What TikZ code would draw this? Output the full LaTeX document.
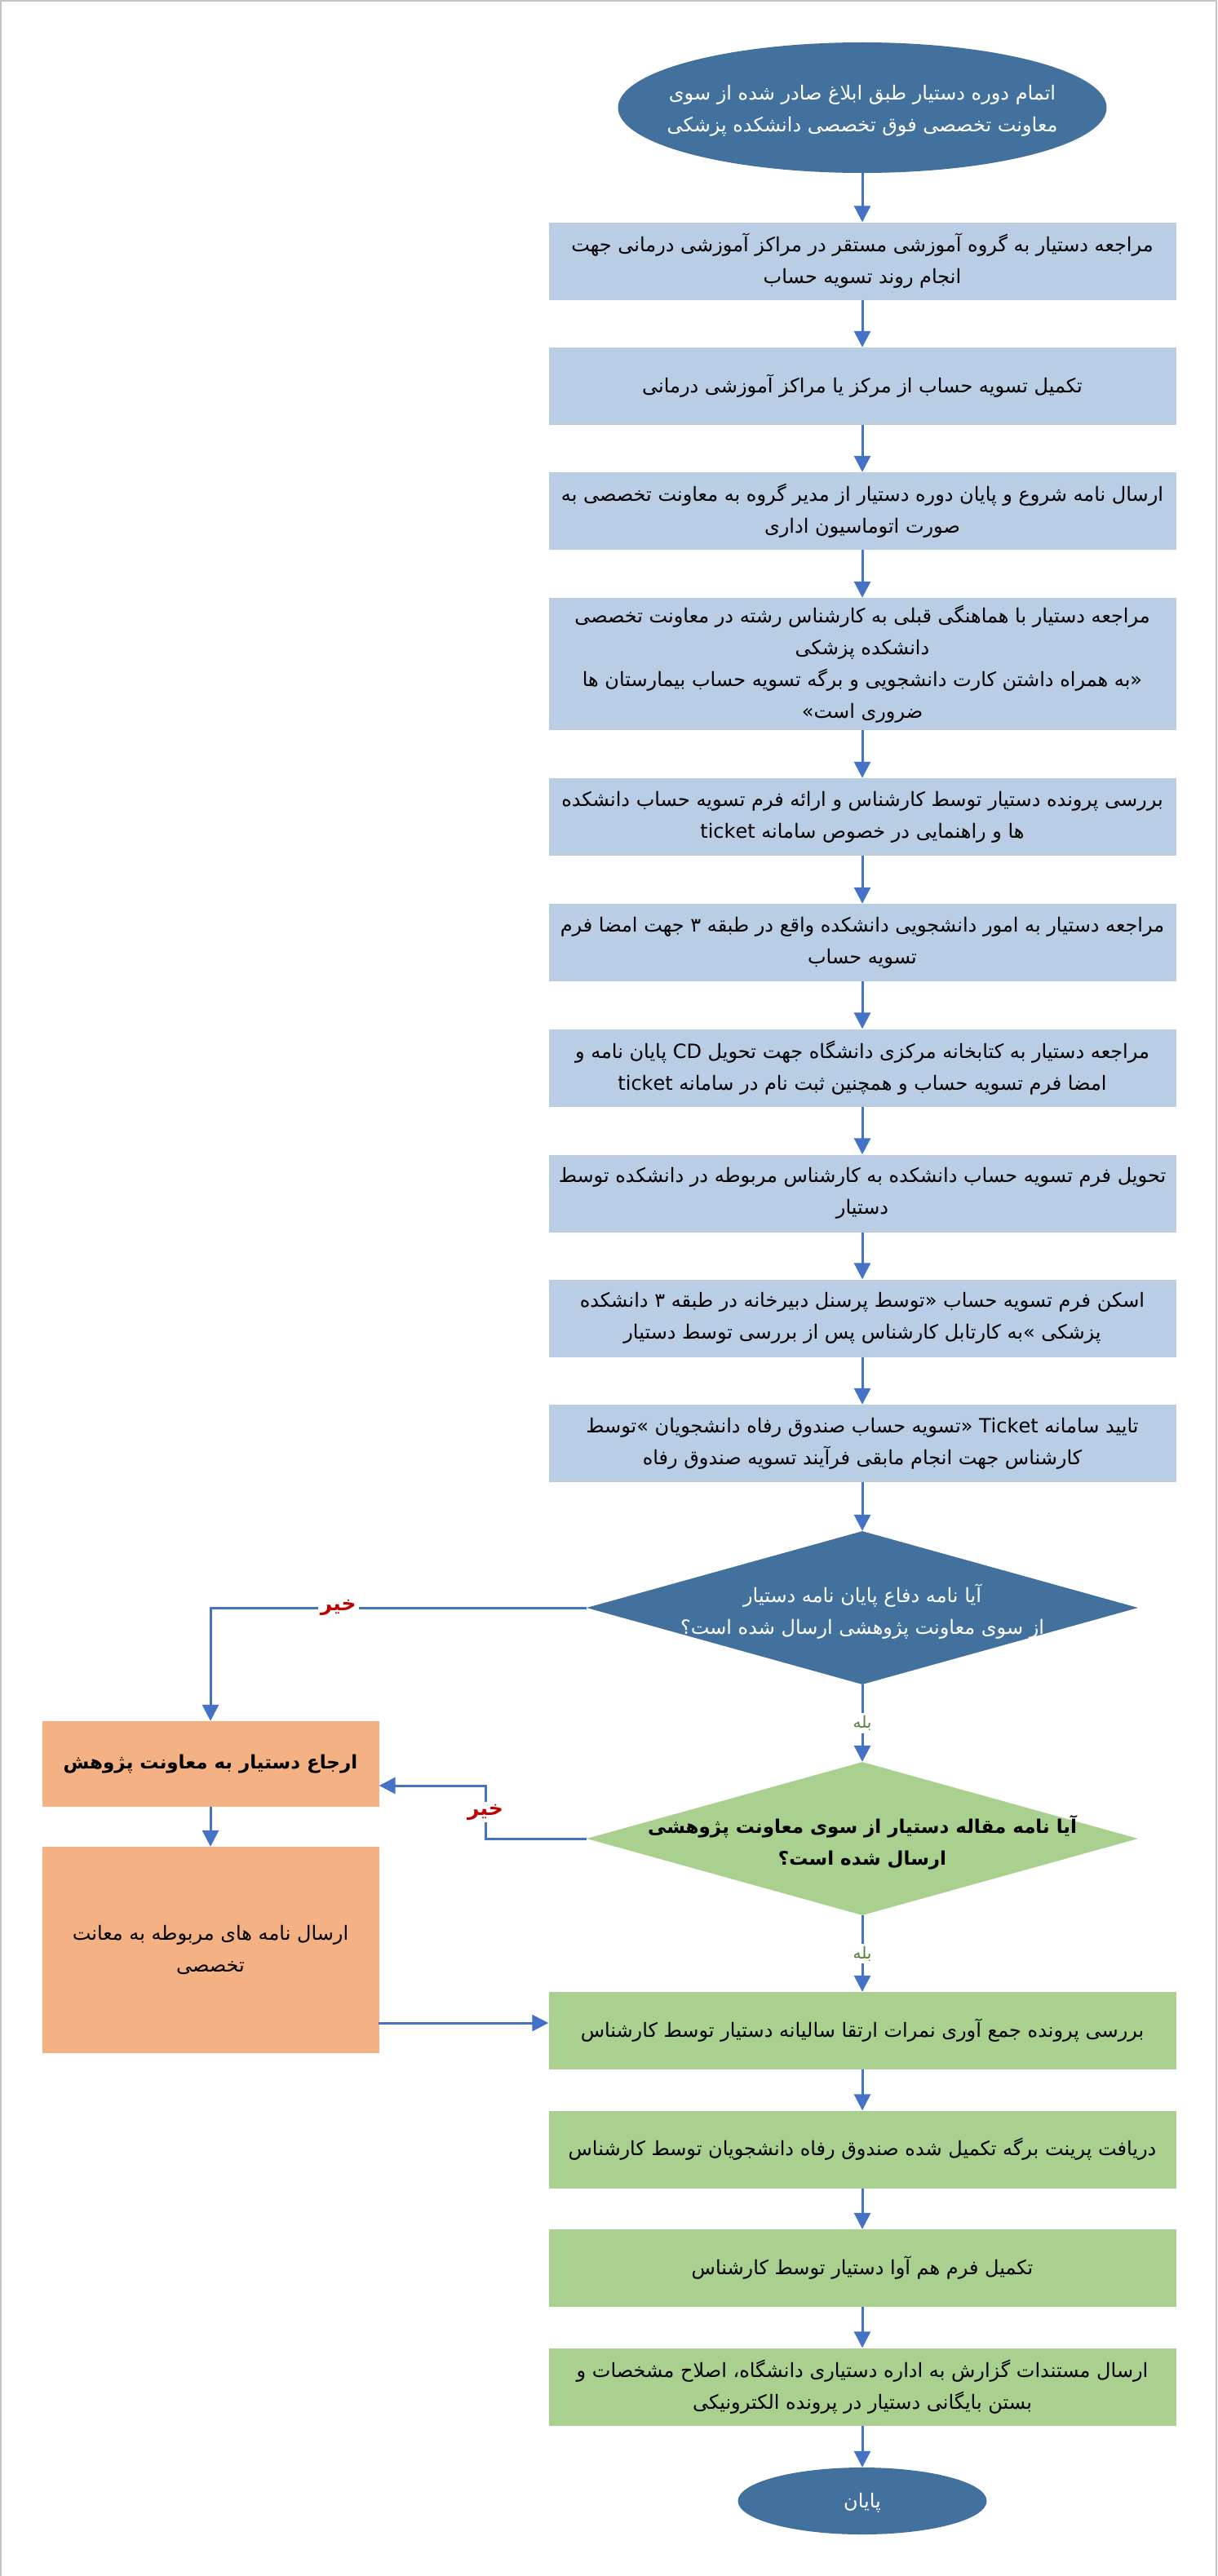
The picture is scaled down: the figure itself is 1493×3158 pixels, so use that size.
\documentclass[tikz,border=0pt]{standalone}
\usepackage{fontspec}
\usetikzlibrary{shapes.geometric,arrows.meta}
\newfontfamily\arabicfont[Script=Arabic]{DejaVu Sans}
\TeXXeTstate=1
\newcommand\fa[1]{\beginR #1\endR}
\definecolor{darkblue}{RGB}{65,113,156}
\definecolor{boxblue}{RGB}{185,205,229}
\definecolor{boxgreen}{RGB}{169,208,142}
\definecolor{boxorange}{RGB}{244,177,131}
\definecolor{arrowblue}{RGB}{68,114,196}
\definecolor{norred}{RGB}{192,0,0}
\definecolor{yesgreen}{RGB}{84,130,53}
\definecolor{framegray}{RGB}{195,195,195}
\begin{document}
\begin{tikzpicture}[x=1pt,y=-1pt,
  basetext/.style={inner sep=0pt, align=center, font=\arabicfont\fontsize{24}{39}\selectfont},
  boldtext/.style={inner sep=0pt, align=center, font=\arabicfont\bfseries\fontsize{23}{39}\selectfont},
  procblue/.style={basetext, rectangle, fill=boxblue, minimum width=769pt, minimum height=95pt},
  procgreen/.style={basetext, rectangle, fill=boxgreen, minimum width=769pt, minimum height=95pt},
  procorange/.style={basetext, rectangle, fill=boxorange, minimum width=413pt},
  terminal/.style={ellipse, fill=darkblue, inner sep=0pt},
  decision/.style={diamond, inner sep=0pt, minimum width=676pt, minimum height=188pt},
  arr/.style={draw=arrowblue, line width=3pt, -{Triangle[length=20pt,width=20pt]}},
  nolabel/.style={fill=white, text=norred, inner sep=3pt, font=\arabicfont\bfseries\fontsize{25}{28}\selectfont},
  yeslabel/.style={fill=white, text=yesgreen, inner sep=3pt, font=\arabicfont\fontsize{20}{24}\selectfont}]
\useasboundingbox (0,0) rectangle (1493,3158);
\draw[framegray, line width=2pt] (1,3158) -- (1,1) -- (1491,1) -- (1491,3158);

% start
\node[terminal, minimum width=599pt, minimum height=160pt] (e0) at (1057,132) {};
\node[basetext, text=white] (e0t) at (1057,136) {\fa{اتمام دوره دستیار طبق ابلاغ صادر شده از سوی}\\\fa{معاونت تخصصی فوق تخصصی دانشکده پزشکی}};

\node[procblue] (b1) at (1057,320) {\fa{مراجعه دستیار به گروه آموزشی مستقر در مراکز آموزشی درمانی جهت}\\\fa{انجام روند تسویه حساب}};
\node[procblue] (b2) at (1057,473.5) {\fa{تکمیل تسویه حساب از مرکز یا مراکز آموزشی درمانی}};
\node[procblue] (b3) at (1057,626.5) {\fa{ارسال نامه شروع و پایان دوره دستیار از مدیر گروه به معاونت تخصصی به}\\\fa{صورت اتوماسیون اداری}};
\node[procblue, minimum height=162pt] (b4) at (1057,814) {\fa{مراجعه دستیار با هماهنگی قبلی به کارشناس رشته در معاونت تخصصی}\\\fa{دانشکده پزشکی}\\\fa{«به همراه داشتن کارت دانشجویی و برگه تسویه حساب بیمارستان ها}\\\fa{ضروری است»}};
\node[procblue] (b5) at (1057,1001.5) {\fa{بررسی پرونده دستیار توسط کارشناس و ارائه فرم تسویه حساب دانشکده}\\\fa{ها و راهنمایی در خصوص سامانه ticket}};
\node[procblue] (b6) at (1057,1155.5) {\fa{مراجعه دستیار به امور دانشجویی دانشکده واقع در طبقه ۳ جهت امضا فرم}\\\fa{تسویه حساب}};
\node[procblue] (b7) at (1057,1309) {\fa{مراجعه دستیار به کتابخانه مرکزی دانشگاه جهت تحویل CD پایان نامه و}\\\fa{امضا فرم تسویه حساب و همچنین ثبت نام در سامانه ticket}};
\node[procblue] (b8) at (1057,1463) {\fa{تحویل فرم تسویه حساب دانشکده به کارشناس مربوطه در دانشکده توسط}\\\fa{دستیار}};
\node[procblue] (b9) at (1057,1616) {\fa{اسکن فرم تسویه حساب «توسط پرسنل دبیرخانه در طبقه ۳ دانشکده}\\\fa{پزشکی »به کارتابل کارشناس پس از بررسی توسط دستیار}};
\node[procblue] (b10) at (1057,1769.5) {\fa{تایید سامانه Ticket «تسویه حساب صندوق رفاه دانشجویان »توسط}\\\fa{کارشناس جهت انجام مابقی فرآیند تسویه صندوق رفاه}};

% decisions
\node[decision, fill=darkblue] (d1) at (1057,1971) {};
\node[basetext, text=white] (d1t) at (1057,1976) {\fa{آیا نامه دفاع پایان نامه دستیار}\\\fa{از سوی معاونت پژوهشی ارسال شده است؟}};
\node[decision, fill=boxgreen] (d2) at (1057,2254) {};
\node[boldtext, text=black] (d2t) at (1057,2259) {\fa{آیا نامه مقاله دستیار از سوی معاونت پژوهشی}\\\fa{ارسال شده است؟}};

% left branch
\node[procorange, minimum height=105pt, font=\arabicfont\bfseries\fontsize{23}{39}\selectfont] (o1) at (258,2162.5) {\fa{ارجاع دستیار به معاونت پژوهش}};
\node[procorange, minimum height=253pt] (o2) at (258,2390.5) {\fa{ارسال نامه های مربوطه به معانت}\\\fa{تخصصی}};

% final steps
\node[procgreen] (g1) at (1057,2489.5) {\fa{بررسی پرونده جمع آوری نمرات ارتقا سالیانه دستیار توسط کارشناس}};
\node[procgreen] (g2) at (1057,2635) {\fa{دریافت پرینت برگه تکمیل شده صندوق رفاه دانشجویان توسط کارشناس}};
\node[procgreen] (g3) at (1057,2780.5) {\fa{تکمیل فرم هم آوا دستیار توسط کارشناس}};
\node[procgreen] (g4) at (1057,2926) {\fa{ارسال مستندات گزارش به اداره دستیاری دانشگاه، اصلاح مشخصات و}\\\fa{بستن بایگانی دستیار در پرونده الکترونیکی}};
\node[terminal, minimum width=305pt, minimum height=82pt] (e1) at (1057,3066) {};
\node[basetext, text=white] (e1t) at (1057,3068) {\fa{پایان}};

% connectors
\draw[arr] (e0.south) -- (b1.north);
\draw[arr] (b1.south) -- (b2.north);
\draw[arr] (b2.south) -- (b3.north);
\draw[arr] (b3.south) -- (b4.north);
\draw[arr] (b4.south) -- (b5.north);
\draw[arr] (b5.south) -- (b6.north);
\draw[arr] (b6.south) -- (b7.north);
\draw[arr] (b7.south) -- (b8.north);
\draw[arr] (b8.south) -- (b9.north);
\draw[arr] (b9.south) -- (b10.north);
\draw[arr] (b10.south) -- (d1.north);

\draw[arr] (d1.west) -| (o1.north) node[nolabel, pos=0.33] (n1) {\fa{خیر}};
\draw[arr] (d1.south) -- (d2.north) node[yeslabel, midway] (y1) {\fa{بله}};

\coordinate (k1) at (595,2189);
\draw[arr] (d2.west) -| (k1) node[nolabel, pos=0.75] (n2) {\fa{خیر}} -- (o1.east |- k1);
\draw[arr] (d2.south) -- (g1.north) node[yeslabel, midway] (y2) {\fa{بله}};

\draw[arr] (o1.south) -- (o2.north);
\coordinate (k2) at (464,2480);
\draw[arr] (k2) -- (g1.west |- k2);

\draw[arr] (g1.south) -- (g2.north);
\draw[arr] (g2.south) -- (g3.north);
\draw[arr] (g3.south) -- (g4.north);
\draw[arr] (g4.south) -- (e1.north);
\end{tikzpicture}
\end{document}
